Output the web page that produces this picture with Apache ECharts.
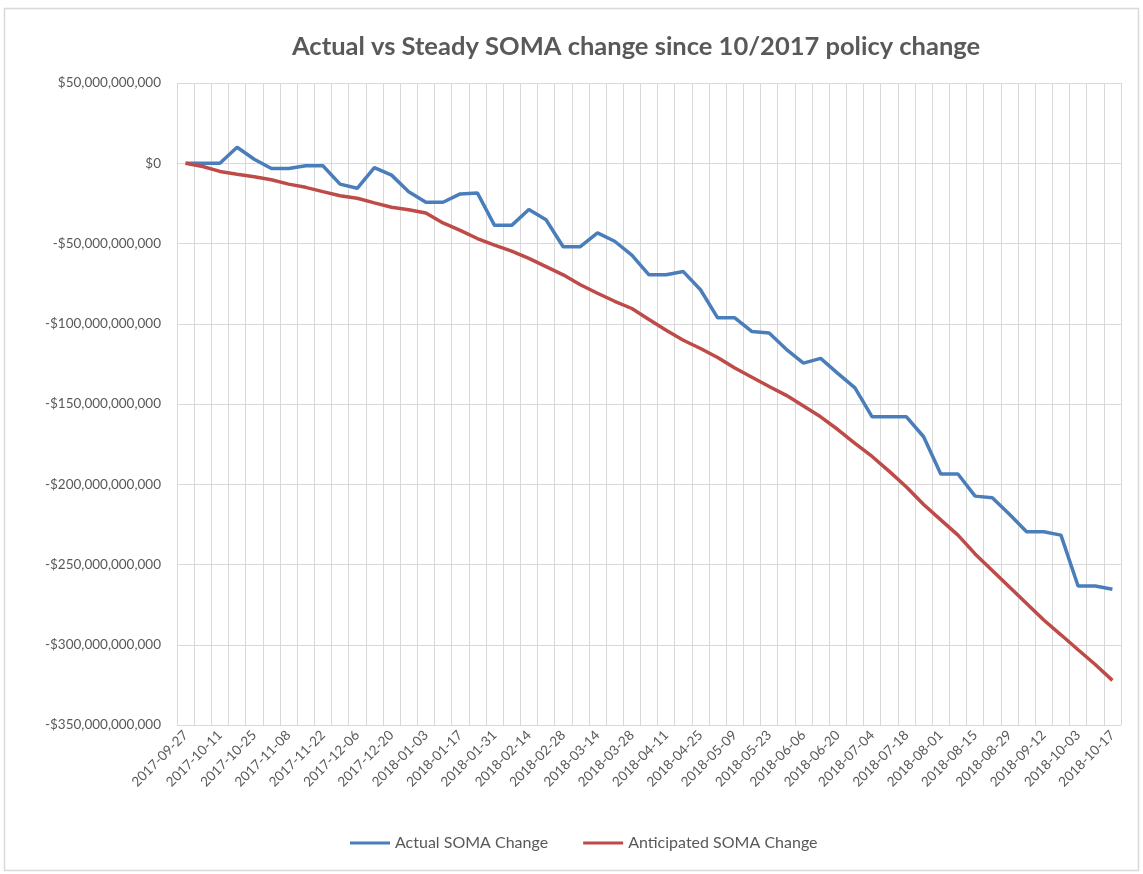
<!DOCTYPE html>
<html>
<head>
<meta charset="utf-8">
<script src="https://cdn.jsdelivr.net/npm/echarts@6/dist/echarts.min.js"></script>
<style>
  html, body { margin: 0; padding: 0; background: #fff; }
  #main { width: 1143px; height: 874px; }
</style>
</head>
<body>
<div id="main"></div>
<script>
// weekly dates (one week missing at end of September)
var dates = [
  '2017-09-27','2017-10-04','2017-10-11','2017-10-18','2017-10-25','2017-11-01','2017-11-08',
  '2017-11-15','2017-11-22','2017-11-29','2017-12-06','2017-12-13','2017-12-20','2017-12-27',
  '2018-01-03','2018-01-10','2018-01-17','2018-01-24','2018-01-31','2018-02-07','2018-02-14',
  '2018-02-21','2018-02-28','2018-03-07','2018-03-14','2018-03-21','2018-03-28','2018-04-04',
  '2018-04-11','2018-04-18','2018-04-25','2018-05-02','2018-05-09','2018-05-16','2018-05-23',
  '2018-05-30','2018-06-06','2018-06-13','2018-06-20','2018-06-27','2018-07-04','2018-07-11',
  '2018-07-18','2018-07-25','2018-08-01','2018-08-08','2018-08-15','2018-08-22','2018-08-29',
  '2018-09-05','2018-09-12','2018-09-19','2018-10-03','2018-10-10','2018-10-17'
];

// values in billions of dollars
var actualSoma = [
  0, 0, 0, 10, 2.5, -3.3, -3.3, -1.6, -1.6, -13, -15.6,
  -2.7, -7.4, -17.7, -24.3, -24.3, -19.1, -18.5, -38.7, -38.7, -28.8,
  -35.2, -52, -52, -43.4, -48.6, -57.2, -69.5, -69.5, -67.5, -78.8,
  -96.3, -96.3, -104.9, -105.8, -115.9, -124.5, -121.6, -130.9, -139.9, -158,
  -158, -158, -170.4, -193.6, -193.6, -207.4, -208.4, -218.7, -229.6, -229.6,
  -231.7, -263.4, -263.4, -265.4
];
var anticipatedSoma = [
  0, -2, -5.1, -6.8, -8.4, -10.3, -13, -15, -17.7, -20.2, -21.8,
  -24.7, -27.4, -29, -31, -37.2, -41.8, -46.9, -51, -54.7, -59.3,
  -64.4, -69.5, -75.7, -81, -86, -90.5, -97.3, -104, -110.3, -115.4,
  -121, -127.6, -133.3, -139.1, -144.6, -151.3, -158, -165.9, -174.5, -182.7,
  -192, -201.7, -212.6, -222.2, -231.7, -243.4, -253.7, -264, -274.3, -284.6,
  -293.8, -303.1, -312.3, -322.2
];

var textColor = '#595959';
var fontName = 'Lato, "Liberation Sans", sans-serif';

function fmtDollars(v) {
  if (v === 0) return '$0';
  var s = Math.abs(v).toString() + ',000,000,000';
  return (v < 0 ? '-$' : '$') + s;
}

var myChart = echarts.init(document.getElementById('main'));
var option = {
  animation: false,
  backgroundColor: '#fff',
  textStyle: { fontFamily: fontName, color: textColor },
  title: {
    text: 'Actual vs Steady SOMA change since 10/2017 policy change',
    left: 287,
    top: 29,
    textStyle: { color: textColor, fontSize: 25.5, fontWeight: 'bold', fontFamily: fontName }
  },
  legend: {
    bottom: 18,
    left: 345,
    icon: 'rect',
    itemWidth: 40,
    itemHeight: 3,
    itemGap: 35,
    textStyle: { color: textColor, fontSize: 16, fontFamily: fontName },
    data: ['Actual SOMA Change', 'Anticipated SOMA Change']
  },
  grid: { left: 177, right: 22, top: 83, bottom: 149 },
  xAxis: {
    type: 'category',
    data: dates,
    boundaryGap: true,
    axisLine: { show: true, lineStyle: { color: '#d9d9d9' } },
    axisTick: { show: false },
    axisLabel: { interval: 1, rotate: 45, color: textColor, fontSize: 13.5, fontFamily: fontName, margin: 8 },
    splitLine: { show: true, interval: 0, lineStyle: { color: '#d9d9d9', width: 1 } }
  },
  yAxis: {
    type: 'value',
    min: -350,
    max: 50,
    interval: 50,
    axisLine: { show: false },
    axisTick: { show: false },
    axisLabel: { color: textColor, fontSize: 13.5, fontFamily: fontName, margin: 16, formatter: fmtDollars },
    splitLine: { lineStyle: { color: '#d9d9d9', width: 1 } }
  },
  series: [
    {
      name: 'Actual SOMA Change',
      type: 'line',
      data: actualSoma,
      symbol: 'none',
      color: '#4a7ebb',
      lineStyle: { width: 3.5, color: '#4a7ebb' }
    },
    {
      name: 'Anticipated SOMA Change',
      type: 'line',
      data: anticipatedSoma,
      symbol: 'none',
      color: '#be4b48',
      lineStyle: { width: 3.5, color: '#be4b48' }
    }
  ],
  graphic: [
    {
      type: 'rect',
      shape: { x: 4.5, y: 8.5, width: 1134, height: 862 },
      style: { fill: 'none', stroke: '#d9d9d9', lineWidth: 1.5 },
      silent: true
    }
  ]
};
myChart.setOption(option);
</script>
</body>
</html>
